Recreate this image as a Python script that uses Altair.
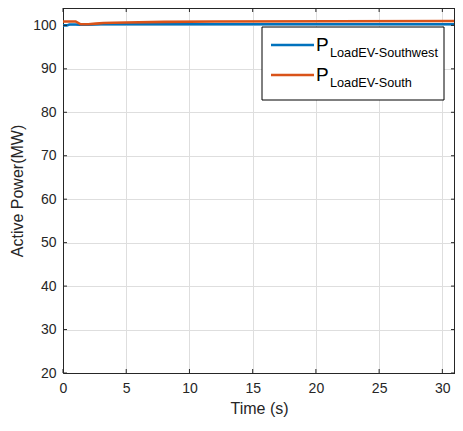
import altair as alt
import pandas as pd

# ---- data ----
t_southwest = [0.0, 0.3, 0.5, 1.0, 1.3, 2.0, 3.0, 6.0, 31.0]
p_southwest = [100.0, 100.0, 100.2, 100.2, 100.15, 100.15, 100.25, 100.25, 100.25]

t_south = [0.0, 1.0, 1.4, 2.0, 2.6, 3.2, 4.0, 5.0, 8.0, 12.0, 31.0]
p_south = [100.9, 100.9, 100.25, 100.25, 100.4, 100.55, 100.6, 100.65, 100.8, 100.9, 101.0]

series_names = ["LoadEV-Southwest", "LoadEV-South"]
series_colors = ["#0072BD", "#D95319"]

x_ticks = [0, 5, 10, 15, 20, 25, 30]
y_ticks = [20, 30, 40, 50, 60, 70, 80, 90, 100]
x_domain = [0, 31]
y_domain = [20, 104]

W, H = 392, 365
FONT = "Liberation Sans"
TXT = "#262626"

rows = []
for t, p in zip(t_southwest, p_southwest):
    rows.append({"t": t, "p": p, "s": series_names[0], "o": 0})
for t, p in zip(t_south, p_south):
    rows.append({"t": t, "p": p, "s": series_names[1], "o": 1})
df = pd.DataFrame(rows)

xs = alt.Scale(domain=x_domain, nice=False, zero=False)
ys = alt.Scale(domain=y_domain, nice=False, zero=False)

base = alt.Chart(df)

lines = base.mark_line(strokeWidth=2.6, interpolate="linear").encode(
    x=alt.X("t:Q", scale=xs,
            axis=alt.Axis(title="Time (s)", values=x_ticks, grid=True, gridColor="#dedede",
                          domainColor=TXT, tickSize=0, labelPadding=8, labelFontSize=14,
                          labelColor=TXT, labelFont=FONT, titleFont=FONT, titleFontSize=16,
                          titleFontWeight="normal", titleColor=TXT, titlePadding=5,
                          labelFlush=False)),
    y=alt.Y("p:Q", scale=ys,
            axis=alt.Axis(title="Active Power(MW)", values=y_ticks, grid=True, gridColor="#dedede",
                          domainColor=TXT, tickSize=0, labelPadding=7, labelFontSize=14,
                          labelColor=TXT, labelFont=FONT, titleFont=FONT, titleFontSize=16,
                          titleFontWeight="normal", titleColor=TXT, titlePadding=7,
                          labelFlush=False)),
    color=alt.Color("s:N", scale=alt.Scale(domain=series_names, range=series_colors), legend=None),
    detail="s:N",
    order="o:Q",
)

# frame (top / right)
frame_top = alt.Chart(pd.DataFrame({"a": [0]})).mark_rule(color=TXT, strokeWidth=1).encode(
    x=alt.value(0), x2=alt.value(W), y=alt.value(0.5))
frame_right = alt.Chart(pd.DataFrame({"a": [0]})).mark_rule(color=TXT, strokeWidth=1).encode(
    x=alt.value(W - 0.5), y=alt.value(0), y2=alt.value(H))

# inward ticks
xt = pd.DataFrame({"v": x_ticks})
yt = pd.DataFrame({"v": y_ticks})
xtick_b = alt.Chart(xt).mark_rule(color=TXT).encode(
    x=alt.X("v:Q", scale=xs), y=alt.value(H - 4), y2=alt.value(H))
xtick_t = alt.Chart(xt).mark_rule(color=TXT).encode(
    x=alt.X("v:Q", scale=xs), y=alt.value(0), y2=alt.value(4))
ytick_l = alt.Chart(yt).mark_rule(color=TXT).encode(
    y=alt.Y("v:Q", scale=ys), x=alt.value(0), x2=alt.value(4))
ytick_r = alt.Chart(yt).mark_rule(color=TXT).encode(
    y=alt.Y("v:Q", scale=ys), x=alt.value(W - 4), x2=alt.value(W))

# custom legend (with subscripts)
LX0, LX1, LY0, LY1 = 199, 381, 19, 92
leg_box = alt.Chart(pd.DataFrame({"a": [0]})).mark_rect(
    fill="white", stroke="#000000", strokeWidth=1).encode(
    x=alt.value(LX0), x2=alt.value(LX1), y=alt.value(LY0), y2=alt.value(LY1))

leg_layers = []
for i, (name, col) in enumerate(zip(series_names, series_colors)):
    yy = 37 + 30 * i
    leg_layers.append(alt.Chart(pd.DataFrame({"a": [0]})).mark_rule(color=col, strokeWidth=2.6).encode(
        x=alt.value(208), x2=alt.value(251), y=alt.value(yy)))
    leg_layers.append(alt.Chart(pd.DataFrame({"a": [0]})).mark_text(
        text="P", font=FONT, fontSize=19, color="#000000", align="left", baseline="alphabetic").encode(
        x=alt.value(253), y=alt.value(yy + 6)))
    leg_layers.append(alt.Chart(pd.DataFrame({"a": [0]})).mark_text(
        text=name, font=FONT, fontSize=12.7, color="#000000", align="left", baseline="alphabetic").encode(
        x=alt.value(267), y=alt.value(yy + 12)))

chart = alt.layer(
    lines, frame_top, frame_right, xtick_b, xtick_t, ytick_l, ytick_r, leg_box, *leg_layers
).properties(
    width=W, height=H,
    autosize=alt.AutoSizeParams(type="none"),
    padding={"left": 55, "top": 0, "right": 0, "bottom": 50},
).configure_view(stroke=None).configure(background="white")

chart.save("out.html", embed_options={"renderer": "svg", "actions": False})
